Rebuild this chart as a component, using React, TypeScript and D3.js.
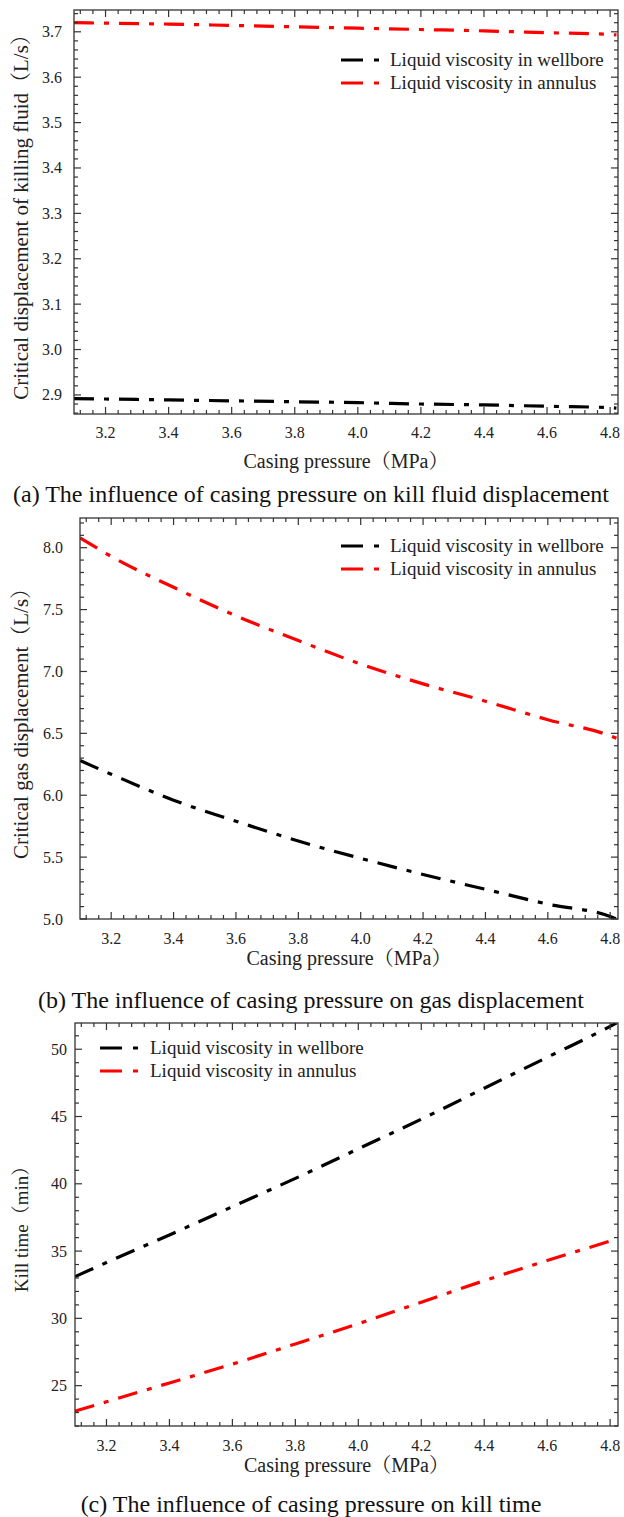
import React from "react";
import * as d3 from "d3";

// ---------- data ----------
const pressure = [3.1, 3.2, 3.4, 3.6, 3.8, 4.0, 4.2, 4.4, 4.6, 4.8, 4.82];

const dispWellbore = [2.892, 2.891, 2.889, 2.887, 2.885, 2.883, 2.88, 2.878, 2.875, 2.872, 2.871];
const dispAnnulus = [3.72, 3.719, 3.717, 3.714, 3.711, 3.708, 3.705, 3.702, 3.698, 3.694, 3.693];

const gasWellbore = [6.28, 6.17, 5.96, 5.79, 5.63, 5.49, 5.36, 5.24, 5.12, 5.02, 5.0];
const gasAnnulus = [8.08, 7.93, 7.68, 7.45, 7.25, 7.06, 6.9, 6.76, 6.61, 6.48, 6.46];

const timeWellbore = [33.1, 34.15, 36.2, 38.3, 40.4, 42.6, 44.8, 47.1, 49.4, 51.7, 51.95];
const timeAnnulus = [23.1, 23.8, 25.2, 26.6, 28.1, 29.6, 31.2, 32.8, 34.3, 35.75, 35.9];

const xTicks = [3.2, 3.4, 3.6, 3.8, 4.0, 4.2, 4.4, 4.6, 4.8];
const yTicksA = [2.9, 3.0, 3.1, 3.2, 3.3, 3.4, 3.5, 3.6, 3.7];
const yTicksB = [5.0, 5.5, 6.0, 6.5, 7.0, 7.5, 8.0];
const yTicksC = [25, 30, 35, 40, 45, 50];

const seriesNames = ["Liquid viscosity in wellbore", "Liquid viscosity in annulus"];
const seriesColors = ["#000000", "#ff0000"];

const FONT = "'Liberation Serif', 'Times New Roman', 'Noto Serif CJK SC', 'Noto Sans CJK SC', serif";

type PanelProps = {
  left: number;
  right: number;
  top: number;
  bottom: number;
  yDomain: [number, number];
  yTicks: number[];
  yMinorStep: number;
  yFmt: (v: number) => string;
  yLabelRight: number;
  series: number[][];
  yTitle: string;
  yTitleX: number;
  yTitleSize: number;
  legendX: number;
  legendTextX: number;
  legendY: number;
  caption: string;
  tickLabelY: number;
  xTitleY: number;
  captionY: number;
};

function Panel(p: PanelProps) {
  const x = d3.scaleLinear().domain([3.1, 4.825]).range([p.left, p.right]);
  const y = d3.scaleLinear().domain(p.yDomain).range([p.bottom, p.top]);
  const line = d3
    .line<number>()
    .x((_, i) => x(pressure[i]))
    .y((d) => y(d))
    .curve(d3.curveMonotoneX);

  const xMinor: number[] = [];
  for (let v = 3.12; v < 4.825; v += 0.04) xMinor.push(Math.round(v * 1000) / 1000);
  const yMinor: number[] = [];
  const start = Math.ceil(p.yDomain[0] / p.yMinorStep - 1e-9) * p.yMinorStep;
  for (let v = start; v <= p.yDomain[1] + 1e-9; v += p.yMinorStep) yMinor.push(Math.round(v * 1000) / 1000);

  const axisColor = "#333";
  const major = 7;
  const minor = 4;

  return (
    <g>
      <defs>
        <clipPath id={`clip-${p.top}`}>
          <rect x={p.left} y={p.top} width={p.right - p.left} height={p.bottom - p.top} />
        </clipPath>
      </defs>
      <g clipPath={`url(#clip-${p.top})`}>
        {p.series.map((s, i) => (
          <path
            key={i}
            d={line(s) || ""}
            fill="none"
            stroke={seriesColors[i]}
            strokeWidth={3.2}
            strokeDasharray="20 10 5 10"
          />
        ))}
      </g>
      <rect
        x={p.left}
        y={p.top}
        width={p.right - p.left}
        height={p.bottom - p.top}
        fill="none"
        stroke={axisColor}
        strokeWidth={1.3}
      />
      {xMinor.map((v, i) => {
        const isMajor = xTicks.some((t) => Math.abs(t - v) < 1e-6);
        const len = isMajor ? major : minor;
        return (
          <g key={"xt" + i}>
            <line x1={x(v)} x2={x(v)} y1={p.bottom} y2={p.bottom - len} stroke={axisColor} strokeWidth={1.2} />
            <line x1={x(v)} x2={x(v)} y1={p.top} y2={p.top + len} stroke={axisColor} strokeWidth={1.2} />
          </g>
        );
      })}
      {xTicks.map((t) => (
        <text
          key={"xl" + t}
          x={x(t)}
          y={p.tickLabelY}
          textAnchor="middle"
          fontFamily={FONT}
          fontSize={16}
          fill="#222"
        >
          {t.toFixed(1)}
        </text>
      ))}
      {yMinor.map((v, i) => {
        const isMajor = p.yTicks.some((t) => Math.abs(t - v) < 1e-6);
        const len = isMajor ? major : minor;
        return (
          <g key={"yt" + i}>
            <line x1={p.left} x2={p.left + len} y1={y(v)} y2={y(v)} stroke={axisColor} strokeWidth={1.2} />
            <line x1={p.right} x2={p.right - len} y1={y(v)} y2={y(v)} stroke={axisColor} strokeWidth={1.2} />
          </g>
        );
      })}
      {p.yTicks.map((t) => (
        <text
          key={"yl" + t}
          x={p.yLabelRight}
          y={y(t) + 5.5}
          textAnchor="end"
          fontFamily={FONT}
          fontSize={16}
          fill="#222"
        >
          {p.yFmt(t)}
        </text>
      ))}
      <text
        x={(p.left + p.right) / 2}
        y={p.xTitleY}
        textAnchor="middle"
        fontFamily={FONT}
        fontSize={20}
        fill="#222"
      >
        Casing pressure（MPa）
      </text>
      <text
        transform={`translate(${p.yTitleX},${(p.top + p.bottom) / 2}) rotate(-90)`}
        textAnchor="middle"
        fontFamily={FONT}
        fontSize={p.yTitleSize}
        fill="#222"
      >
        {p.yTitle}
      </text>
      {seriesNames.map((name, i) => (
        <g key={"lg" + i}>
          <line
            x1={p.legendX}
            x2={p.legendX + 40}
            y1={p.legendY + i * 23}
            y2={p.legendY + i * 23}
            stroke={seriesColors[i]}
            strokeWidth={3.2}
            strokeDasharray="22 11 5 100"
          />
          <text
            x={p.legendTextX}
            y={p.legendY + i * 23 + 6}
            fontFamily={FONT}
            fontSize={19}
            fill="#222"
          >
            {name}
          </text>
        </g>
      ))}
      <text x={311} y={p.captionY} textAnchor="middle" fontFamily={FONT} fontSize={24} fill="#111">
        {p.caption}
      </text>
    </g>
  );
}

export default function App() {
  return (
    <svg
      width={624}
      height={1517}
      style={{ position: "absolute", left: 0, top: 0, background: "#fff" }}
    >
      <rect x={0} y={0} width={624} height={1517} fill="#fff" />
      <Panel
        left={74}
        right={618}
        top={10}
        bottom={414}
        yDomain={[2.858, 3.748]}
        yTicks={yTicksA}
        yMinorStep={0.02}
        yFmt={(v) => v.toFixed(1)}
        yLabelRight={62}
        series={[dispWellbore, dispAnnulus]}
        yTitle="Critical displacement of killing fluid（L/s）"
        yTitleX={28}
        yTitleSize={21}
        legendX={341}
        legendTextX={390}
        legendY={60}
        caption="(a) The influence of casing pressure on kill fluid displacement"
        tickLabelY={438}
        xTitleY={468}
        captionY={502}
      />
      <Panel
        left={80}
        right={618}
        top={518}
        bottom={919}
        yDomain={[5.0, 8.24]}
        yTicks={yTicksB}
        yMinorStep={0.1}
        yFmt={(v) => v.toFixed(1)}
        yLabelRight={63}
        series={[gasWellbore, gasAnnulus]}
        yTitle="Critical gas displacement（L/s）"
        yTitleX={28}
        yTitleSize={21}
        legendX={341}
        legendTextX={390}
        legendY={546}
        caption="(b) The influence of casing pressure on gas displacement"
        tickLabelY={944}
        xTitleY={965}
        captionY={1008}
      />
      <Panel
        left={75}
        right={618}
        top={1023}
        bottom={1426}
        yDomain={[22, 51.95]}
        yTicks={yTicksC}
        yMinorStep={1}
        yFmt={(v) => String(v)}
        yLabelRight={67}
        series={[timeWellbore, timeAnnulus]}
        yTitle="Kill time（min）"
        yTitleX={28}
        yTitleSize={19}
        legendX={100}
        legendTextX={150}
        legendY={1048}
        caption="(c) The influence of casing pressure on kill time"
        tickLabelY={1451}
        xTitleY={1472}
        captionY={1512}
      />
    </svg>
  );
}
